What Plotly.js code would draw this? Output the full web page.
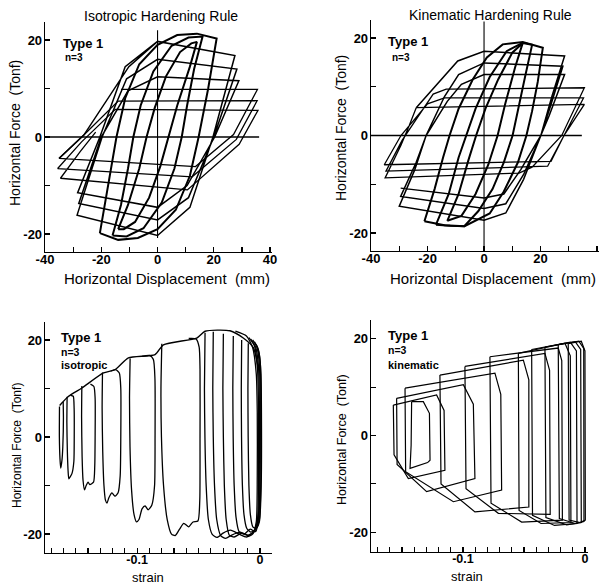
<!DOCTYPE html>
<html><head><meta charset="utf-8">
<script src="https://cdn.plot.ly/plotly-3.0.1.min.js"></script>
<style>html,body{margin:0;padding:0;background:#fff}#c{width:600px;height:584px}</style>
</head><body><div id="c"></div>
<script>
// ---------- Top-left: isotropic, force vs displacement ----------
const isoAx = [-14.0,-10.5,-6.5,-3.9,-1.0,3.0,8.0,12.0,14.0,11.5,7.0,3.9,1.0,-3.0,-8.0,-12.0,-14.0];
const isoAy = [-19.0,-14.0,-6.5,0.0,6.0,12.5,17.5,19.3,19.6,14.5,6.5,0.0,-6.0,-12.5,-17.5,-19.0,-19.0];
const isoBx = [-16.0,-13.0,-10.5,-8.6,-6.0,-1.5,5.0,11.0,16.0,13.0,10.5,8.6,6.0,1.5,-5.0,-11.0,-16.0];
const isoBy = [-20.3,-14.0,-6.5,0.0,6.5,13.5,18.8,20.5,20.7,14.0,6.5,0.0,-6.5,-13.5,-18.8,-20.5,-20.3];
const isoCx = [-20.5,-17.5,-14.6,-11.5,-6.5,0.0,7.0,14.0,21.0,18.0,14.6,11.5,6.5,0.0,-7.0,-14.0,-20.5];
const isoCy = [-19.8,-10.0,0.0,8.0,15.0,19.0,21.0,21.3,20.3,10.0,0.0,-8.0,-15.0,-19.0,-20.8,-21.2,-19.8];
const isoDx = [-35.0,-26.2,-10.2,0.0,27.5,19.7,11.5,0.0,-28.6,-19.7,-11.0,0.0,28.2,20.0,11.0,0.0,-28.0,-20.0,-10.5,0.0,28.9,20.3,10.5,0.0,-28.4,-20.5,-11.5,0.0];
const isoDy = [-4.4,0.4,14.5,19.7,16.8,0.0,-14.5,-20.3,-16.1,0.0,12.0,16.0,14.0,0.0,-12.5,-17.1,-13.7,0.0,9.5,12.4,11.6,0.0,-10.0,-14.5,-11.5,0.0,14.5,19.7];
const isoEx = [-13.0,35.5,27.0,13.5,-35.0,-26.2,-14.0,35.4,28.0,12.3,-35.5,-27.0,-15.0,35.7,29.0,10.6,-34.5,-27.5,-22.0];
const isoEy = [9.8,9.8,0.5,-6.1,-4.4,0.4,7.4,7.5,-0.5,-8.2,-6.5,-1.0,5.7,5.5,-1.5,-10.9,-8.5,-3.0,1.0];

// ---------- Top-right: kinematic, force vs displacement ----------
const kinAx = [-13.0,-9.0,-5.5,-2.8,0.5,5.0,10.0,13.7,11.0,7.5,4.8,1.5,-3.0,-8.0,-13.0];
const kinAy = [-17.5,-12.0,-5.0,0.0,5.5,11.5,17.0,19.0,14.0,6.5,0.0,-6.0,-12.0,-16.5,-17.5];
const kinBx = [-17.0,-12.5,-9.0,-6.4,-3.0,2.0,8.0,13.7,17.0,14.5,12.0,10.1,7.0,3.0,-2.0,-7.0,-12.0,-17.0];
const kinBy = [-18.3,-12.0,-4.5,0.0,5.5,12.0,17.3,19.0,18.6,12.0,5.0,0.0,-5.5,-11.0,-15.5,-18.6,-18.5,-18.3];
const kinCx = [-21.1,-17.5,-14.5,-12.2,-9.0,-4.0,1.0,6.6,13.7,20.8,19.0,17.0,15.0,12.0,7.0,2.0,-6.9,-14.0,-21.1];
const kinCy = [-17.6,-11.0,-4.5,0.0,5.5,11.5,16.0,18.7,19.2,18.0,11.0,5.0,0.0,-5.5,-11.5,-16.0,-18.6,-18.4,-17.6];
const kinDx = [-24.0,-9.3,0.0,28.5,24.0,20.1,14.0,7.7,0.0,-30.0,-24.5,-20.5,-14.0,-9.0,0.0,27.9,23.5,20.1,14.0,7.7,0.0,-29.5,-24.0,-20.5,-13.0,-8.0,0.0,28.5,23.0,20.1,13.0,7.0,0.0,-29.5];
const kinDy = [5.7,15.3,17.3,16.3,8.0,0.0,-9.0,-15.9,-17.4,-14.5,-7.0,0.0,8.0,12.5,14.9,14.2,6.0,0.0,-8.0,-14.0,-15.0,-12.5,-5.5,0.0,7.0,10.5,12.5,12.5,4.0,0.0,-7.0,-12.0,-12.8,-10.8];
const kinEx = [-24.0,35.5,30.0,28.3,23.7,-35.3,-29.4,-20.0,-14.0,35.2,28.3,22.5,-34.7,-29.0,-18.0,-13.4,35.5,27.5,17.0,12.4,-35.0,-29.4,-26.5,-24.0];
const kinEy = [5.7,6.4,1.5,0.0,-5.3,-6.0,0.0,6.5,7.7,7.7,0.0,-6.3,-7.3,-1.0,8.5,9.5,9.8,0.0,-6.5,-7.7,-8.7,-2.0,2.0,5.7];

// ---------- Bottom-left: isotropic, force vs strain ----------
const isoEnvX = [-0.1631,-0.1558,-0.1450,-0.1274,-0.1179,-0.1071,-0.0854,-0.0786,-0.0515,-0.0447,-0.0244,-0.0136,-0.0054,-0.0014];
const isoEnvY = [6.5,8.4,10.1,13.2,13.9,16.3,17.0,19.0,20.4,21.8,21.9,20.4,18.4,14.2];
const f1x = [-0.1632,-0.1633,-0.1628,-0.1622,-0.1612,-0.1605,-0.1600,-0.1602];
const f1y = [6.3,0.0,-4.5,-6.4,-4.8,-2.0,4.0,7.2];
const f2x = [-0.1570,-0.1572,-0.1568,-0.1562,-0.1556,-0.1545,-0.1530,-0.1515,-0.1512,-0.1513,-0.1520,-0.1540];
const f2y = [8.3,3.0,-3.0,-7.0,-8.6,-8.2,-7.5,-5.0,0.0,6.0,8.4,8.6];
const f3x = [-0.1450,-0.1452,-0.1448,-0.1440,-0.1428,-0.1415,-0.1400,-0.1385,-0.1355,-0.1345,-0.1342,-0.1342,-0.1352,-0.1380];
const f3y = [10.5,4.0,-4.0,-9.0,-10.9,-10.0,-9.3,-9.8,-9.3,-6.0,0.0,8.0,10.4,10.9];
const f4x = [-0.1282,-0.1285,-0.1280,-0.1270,-0.1258,-0.1245,-0.1230,-0.1205,-0.1180,-0.1155,-0.1138,-0.1133,-0.1133,-0.1145,-0.1175,-0.1215];
const f4y = [13.3,6.0,-3.0,-10.0,-13.0,-13.6,-12.5,-11.5,-12.2,-11.5,-8.0,0.0,10.0,13.2,13.9,13.6];
const f5x = [-0.1057,-0.1062,-0.1058,-0.1045,-0.1025,-0.1005,-0.0985,-0.0960,-0.0935,-0.0910,-0.0880,-0.0858,-0.0854,-0.0855,-0.0868,-0.0900,-0.0960];
const f5y = [16.2,8.0,-2.0,-11.0,-16.0,-17.5,-17.0,-14.8,-14.2,-15.0,-14.0,-10.0,0.0,12.0,16.0,16.8,16.6];
const f6x = [-0.0799,-0.0806,-0.0802,-0.0785,-0.0755,-0.0720,-0.0690,-0.0655,-0.0620,-0.0580,-0.0545,-0.0505,-0.0490,-0.0488,-0.0488,-0.0495,-0.0520,-0.0580];
const f6y = [19.2,10.0,0.0,-10.0,-17.0,-20.0,-20.3,-19.0,-17.8,-18.5,-17.5,-17.3,-13.0,0.0,14.0,18.5,20.2,20.3];
const f7x = [-0.0447,-0.0452,-0.0448,-0.0438,-0.0420,-0.0390,-0.0350,-0.0300,-0.0240,-0.0170,-0.0110,-0.0060,-0.0030,-0.0022,-0.0022,-0.0030,-0.0060,-0.0110,-0.0200];
const f7y = [21.5,10.0,0.0,-10.0,-17.0,-20.0,-20.7,-19.8,-19.2,-20.0,-20.6,-20.0,-17.5,-8.0,5.0,13.0,18.5,20.8,21.8];
const f8x = [-0.0380,-0.0384,-0.0380,-0.0370,-0.0352,-0.0320,-0.0280,-0.0230,-0.0160,-0.0100,-0.0050,-0.0020,-0.0012,-0.0012,-0.0020,-0.0045,-0.0090];
const f8y = [21.7,10.0,0.0,-10.0,-17.0,-20.3,-20.9,-20.2,-19.6,-20.2,-19.5,-17.0,-6.0,6.0,14.0,18.8,20.5];
const f9x = [-0.0298,-0.0302,-0.0298,-0.0290,-0.0275,-0.0250,-0.0210,-0.0150,-0.0090,-0.0040,-0.0012,-0.0005,-0.0005,-0.0012,-0.0035,-0.0075];
const f9y = [21.3,10.0,0.0,-10.0,-17.0,-20.2,-20.6,-19.8,-20.3,-19.3,-16.0,-5.0,7.0,14.5,18.5,20.2];
const f10x = [-0.0217,-0.0221,-0.0218,-0.0210,-0.0195,-0.0170,-0.0130,-0.0080,-0.0035,-0.0008,0.0002,0.0002,-0.0005,-0.0025,-0.0060];
const f10y = [20.8,10.0,0.0,-10.0,-16.5,-19.5,-20.0,-19.0,-19.5,-16.0,-5.0,8.0,15.0,18.6,20.0];
const f11x = [-0.0149,-0.0152,-0.0150,-0.0143,-0.0130,-0.0108,-0.0075,-0.0035,-0.0005,0.0008,0.0008,0.0003,-0.0015,-0.0045];
const f11y = [20.0,10.0,0.0,-10.0,-16.0,-18.8,-19.6,-19.0,-17.0,-8.0,8.0,15.0,18.2,19.6];
const f12x = [-0.0095,-0.0098,-0.0096,-0.0090,-0.0078,-0.0058,-0.0030,-0.0005,0.0010,0.0012,0.0008,-0.0005,-0.0030];
const f12y = [19.3,10.0,0.0,-10.0,-16.0,-18.5,-18.8,-17.5,-10.0,5.0,13.0,17.0,19.0];

// ---------- Bottom-right: kinematic, force vs strain ----------
const s0x = [-0.1421,-0.1325,-0.1275,-0.1270,-0.1290,-0.1434,-0.1425,-0.1421];
const s0y = [7.0,7.0,4.6,-5.1,-5.6,-6.8,-2.0,7.0];
const s1x = [-0.1571,-0.1216,-0.1155,-0.1148,-0.1448,-0.1565,-0.1571];
const s1y = [6.3,8.4,5.2,-7.2,-8.9,-4.0,6.3];
const s2x = [-0.1544,-0.0997,-0.0915,-0.0902,-0.1298,-0.1540,-0.1544];
const s2y = [7.7,10.5,6.5,-8.9,-11.6,-6.0,7.7];
const s3x = [-0.1475,-0.0738,-0.0690,-0.0683,-0.1079,-0.1470,-0.1475];
const s3y = [9.8,12.9,8.5,-11.3,-13.7,-7.5,9.8];
const s4x = [-0.1189,-0.0505,-0.0460,-0.0460,-0.0902,-0.1180,-0.1189];
const s4y = [12.5,15.6,11.5,-14.8,-15.8,-10.0,12.5];
const s5x = [-0.0984,-0.0328,-0.0290,-0.0285,-0.0710,-0.0975,-0.0984];
const s5y = [14.3,17.0,13.5,-16.3,-16.1,-11.0,14.3];
const s6x = [-0.0779,-0.0219,-0.0190,-0.0185,-0.0519,-0.0770,-0.0779];
const s6y = [16.3,18.1,15.5,-17.5,-17.9,-14.0,16.3];
const s7x = [-0.0546,-0.0164,-0.0120,-0.0115,-0.0360,-0.0540,-0.0546];
const s7y = [17.0,19.1,16.5,-18.0,-18.2,-15.5,17.0];
const s8x = [-0.0437,-0.0120,-0.0070,-0.0065,-0.0250,-0.0430,-0.0437];
const s8y = [17.8,19.3,17.5,-18.2,-18.6,-16.5,17.8];
const s9x = [-0.0328,-0.0080,-0.0035,-0.0030,-0.0150,-0.0320,-0.0328];
const s9y = [18.3,19.4,17.8,-18.0,-18.5,-17.0,18.3];
const s10x = [-0.0219,-0.0050,-0.0010,-0.0008,-0.0080,-0.0210,-0.0219];
const s10y = [18.8,19.5,18.0,-17.8,-18.2,-17.2,18.8];
const s11x = [-0.0137,-0.0030,0.0000,0.0003,-0.0040,-0.0130,-0.0137];
const s11y = [19.0,19.5,17.5,-17.5,-18.0,-17.5,19.0];

// ---------- ticks ----------
const dispTicks = [-40,-30,-20,-10,0,10,20,30,40];
const dispTickText = ['-40','','-20','','0','','20','','40'];
const forceTicks = [-20,-10,0,10,20];
const forceTickText = ['-20','','0','','20'];
const strainTicks = [-0.17,-0.16,-0.15,-0.14,-0.13,-0.12,-0.11,-0.1,-0.09,-0.08,-0.07,-0.06,-0.05,-0.04,-0.03,-0.02,-0.01,0];
const strainTickText = ['','','','','','','','-0.1','','','','','','','','','','0'];

const traces = [];
function add(x, y, xa, ya, w, shape) {
  traces.push({x: x, y: y, xaxis: xa, yaxis: ya, type: 'scatter', mode: 'lines',
    line: {color: '#000', width: w, shape: shape || 'linear', smoothing: 0.6},
    hoverinfo: 'skip', showlegend: false});
}
add(isoEx, isoEy, 'x', 'y', 1.3);
add(isoDx, isoDy, 'x', 'y', 1.5);
add(isoCx, isoCy, 'x', 'y', 2.0);
add(isoBx, isoBy, 'x', 'y', 2.0);
add(isoAx, isoAy, 'x', 'y', 2.0);
add(kinEx, kinEy, 'x2', 'y2', 1.3);
add(kinDx, kinDy, 'x2', 'y2', 1.5);
add(kinCx, kinCy, 'x2', 'y2', 2.0);
add(kinBx, kinBy, 'x2', 'y2', 2.0);
add(kinAx, kinAy, 'x2', 'y2', 2.0);
add(isoEnvX, isoEnvY, 'x3', 'y3', 1.4, 'spline');
[[f1x,f1y],[f2x,f2y],[f3x,f3y],[f4x,f4y],[f5x,f5y],[f6x,f6y],[f7x,f7y],[f8x,f8y],[f9x,f9y],[f10x,f10y],[f11x,f11y],[f12x,f12y]]
  .forEach(f => add(f[0], f[1], 'x3', 'y3', 1.3, 'spline'));
[[s0x,s0y],[s1x,s1y],[s2x,s2y],[s3x,s3y],[s4x,s4y],[s5x,s5y],[s6x,s6y],[s7x,s7y],[s8x,s8y],[s9x,s9y],[s10x,s10y],[s11x,s11y]]
  .forEach(s => add(s[0], s[1], 'x4', 'y4', 1.2));

const W = 600, H = 584;
const FONT = 'Liberation Sans, Arial, sans-serif';
function xd(a, b) { return [a / W, b / W]; }
function yd(top, bottom) { return [1 - bottom / H, 1 - top / H]; }
function ax(domain, range, tv, tt, anchor, size, standoff) {
  return {domain: domain, range: range, anchor: anchor, tickmode: 'array', tickvals: tv, ticktext: tt,
    ticks: 'inside', ticklen: 5, tickwidth: 1.2, tickcolor: '#000', showline: true, linecolor: '#000', linewidth: 1.3,
    showgrid: false, zeroline: false, mirror: false, ticklabelstandoff: standoff,
    tickfont: {family: FONT, size: size, color: '#000', weight: 'bold'}, fixedrange: true};
}

function ann(text, px, py, size, xanchor, rot, bold) {
  return {text: text, xref: 'paper', yref: 'paper', x: px / W, y: 1 - py / H, showarrow: false,
    xanchor: xanchor || 'center', yanchor: 'middle', textangle: rot || 0,
    font: {family: FONT, size: size, color: '#000', weight: bold ? 'bold' : 'normal'}};
}

const layout = {
  width: W, height: H, margin: {l: 0, r: 0, t: 0, b: 0},
  paper_bgcolor: '#fff', plot_bgcolor: '#fff', showlegend: false,
  xaxis: ax(xd(45, 271.5), [-40, 40.5], dispTicks, dispTickText, 'y', 13, -5),
  yaxis: ax(yd(22, 252), [-23.7, 23.7], forceTicks, forceTickText, 'x', 13, -1),
  xaxis2: ax(xd(371, 598.5), [-40, 40.5], dispTicks, dispTickText, 'y2', 13, -5),
  yaxis2: ax(yd(20, 251), [-23.7, 23.7], forceTicks, forceTickText, 'x2', 13, -1),
  xaxis3: ax(xd(45, 272), [-0.175, 0.0098], strainTicks, strainTickText, 'y3', 12.5, -5),
  yaxis3: ax(yd(322, 553), [-23.9, 23.7], forceTicks, forceTickText, 'x3', 13, -1),
  xaxis4: ax(xd(371, 588), [-0.1754, 0.0025], strainTicks, strainTickText, 'y4', 12.5, -5),
  yaxis4: ax(yd(320, 552), [-24.1, 23.9], forceTicks, forceTickText, 'x4', 13, -1),
  shapes: [
    {type: 'line', xref: 'x', yref: 'y', x0: -40, x1: 36.1, y0: 0, y1: 0, line: {color: '#000', width: 1.4}},
    {type: 'line', xref: 'x', yref: 'y', x0: 0, x1: 0, y0: -20.8, y1: 22, line: {color: '#000', width: 1.1}},
    {type: 'line', xref: 'x2', yref: 'y2', x0: -40, x1: 34.6, y0: 0, y1: 0, line: {color: '#000', width: 1.4}},
    {type: 'line', xref: 'x2', yref: 'y2', x0: 0, x1: 0, y0: -23.7, y1: 23.4, line: {color: '#000', width: 1.1}}
  ],
  annotations: [
    ann('Isotropic Hardening Rule', 161, 16, 14),
    ann('Kinematic Hardening Rule', 490, 15, 14),
    ann('Horizontal Displacement\u00a0\u00a0(mm)', 167, 278, 15),
    ann('Horizontal Displacement\u00a0\u00a0(mm)', 493, 278, 15),
    ann('Horizontal Force\u00a0\u00a0(Tonf)', 15, 133, 14, 'center', -90),
    ann('Horizontal Force\u00a0\u00a0(Tonf)', 341, 128, 14, 'center', -90),
    ann('Horizontal Force\u00a0\u00a0(Tonf)', 17, 446, 12, 'center', -90),
    ann('Horizontal Force\u00a0\u00a0(Tonf)', 342, 439, 12.5, 'center', -90),
    ann('strain', 148, 577, 13),
    ann('strain', 467, 576, 13),
    ann('Type 1', 61, 43, 13, 'left', 0, true),
    ann('n=3', 63, 58, 10, 'left', 0, true),
    ann('Type 1', 386, 42, 13, 'left', 0, true),
    ann('n=3', 390, 57, 10, 'left', 0, true),
    ann('Type 1', 59, 337, 13, 'left', 0, true),
    ann('n=3', 59, 352, 10.5, 'left', 0, true),
    ann('isotropic', 59, 365, 11, 'left', 0, true),
    ann('Type 1', 386, 335, 13, 'left', 0, true),
    ann('n=3', 386, 350, 10.5, 'left', 0, true),
    ann('kinematic', 386, 365, 11, 'left', 0, true)
  ]
};

Plotly.newPlot('c', traces, layout, {staticPlot: true, displayModeBar: false});
</script>
</body></html>
